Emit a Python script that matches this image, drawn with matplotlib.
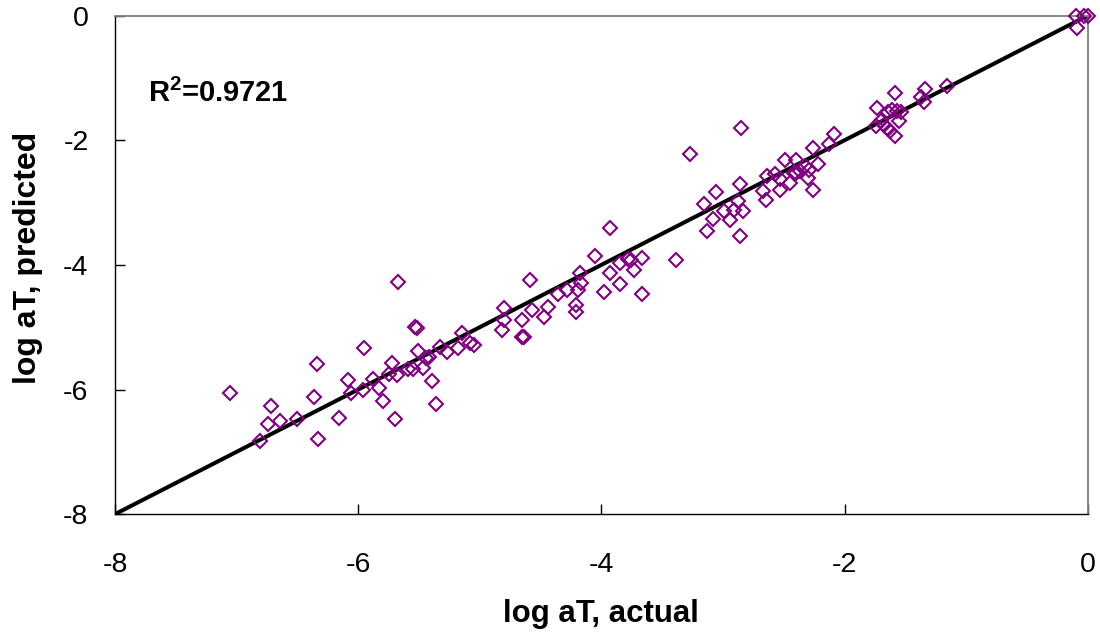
import matplotlib.pyplot as plt

plt.rcParams["font.family"] = ["Liberation Sans", "DejaVu Sans"]
plt.rcParams["axes.unicode_minus"] = False
plt.rcParams["mathtext.fontset"] = "custom"
plt.rcParams["mathtext.rm"] = "Liberation Sans:bold"
plt.rcParams["mathtext.bf"] = "Liberation Sans:bold"

# log aT values
actual = [
    -7.05, -6.81, -6.74, -6.72, -6.64, -6.50, -6.36, -6.34, -6.33, -6.16,
    -6.08, -6.06, -5.95, -5.96, -5.88, -5.83, -5.80, -5.72, -5.70, -5.67,
    -5.75, -5.68, -5.59, -5.55, -5.53, -5.52, -5.51, -5.47, -5.44, -5.42,
    -5.39, -5.36, -5.33, -5.27, -5.18, -5.15, -5.08, -5.05, -4.82, -4.80,
    -4.80, -4.65, -4.65, -4.64, -4.59, -4.57, -4.47, -4.44, -4.36, -4.28,
    -4.21, -4.21, -4.19, -4.18, -4.17, -4.05, -3.98, -3.93, -3.93, -3.85,
    -3.85, -3.78, -3.76, -3.73, -3.67, -3.67, -3.39, -3.27, -3.16, -3.13,
    -3.08, -3.06, -2.99, -2.94, -2.91, -2.88, -2.86, -2.84, -2.86, -2.85,
    -2.67, -2.65, -2.64, -2.57, -2.53, -2.53, -2.49, -2.45, -2.40, -2.42,
    -2.40, -2.37, -2.33, -2.30, -2.29, -2.26, -2.26, -2.22, -2.13, -2.09,
    -1.73, -1.74, -1.70, -1.68, -1.65, -1.64, -1.63, -1.61, -1.59, -1.59,
    -1.57, -1.54, -1.55, -1.37, -1.34, -1.35, -1.16, -0.10, -0.09, -0.03,
    0.0,
]
predicted = [
    -6.06, -6.83, -6.55, -6.26, -6.51, -6.48, -6.12, -5.59, -6.80, -6.45,
    -5.84, -6.06, -5.33, -6.00, -5.83, -5.97, -6.19, -5.57, -6.48, -4.27,
    -5.75, -5.76, -5.67, -5.67, -5.00, -5.01, -5.38, -5.66, -5.50, -5.48,
    -5.87, -6.23, -5.31, -5.40, -5.33, -5.09, -5.25, -5.29, -5.04, -4.70,
    -4.88, -4.88, -5.15, -5.16, -4.24, -4.72, -4.84, -4.68, -4.47, -4.40,
    -4.65, -4.76, -4.40, -4.13, -4.29, -3.85, -4.43, -3.41, -4.13, -3.97,
    -4.30, -3.91, -3.93, -4.08, -3.89, -4.46, -3.92, -2.22, -3.02, -3.45,
    -3.27, -2.83, -3.14, -3.28, -3.12, -2.98, -2.70, -3.14, -3.53, -1.81,
    -2.82, -2.96, -2.58, -2.54, -2.80, -2.63, -2.32, -2.68, -2.32, -2.52,
    -2.52, -2.49, -2.42, -2.61, -2.48, -2.12, -2.80, -2.38, -2.06, -1.90,
    -1.49, -1.78, -1.70, -1.75, -1.81, -1.54, -1.85, -1.51, -1.24, -1.94,
    -1.53, -1.54, -1.70, -1.30, -1.18, -1.38, -1.13, 0.0, -0.20, 0.0,
    0.0,
]

# y = x reference line
line_x = [-8, 0]
line_y = [-8, 0]
r2_label = r"R$^{2}$=0.9721"

fig = plt.figure(figsize=(11, 6.34), dpi=100)
ax = fig.add_axes([0.1045, 0.189, 0.8845, 0.7865])

ax.plot(line_x, line_y, color="black", linewidth=2.9, zorder=2)
ax.plot(actual, predicted, linestyle="none", marker="D", markersize=7.0,
        markerfacecolor="none", markeredgecolor="#800080",
        markeredgewidth=1.5, zorder=3, clip_on=False)

ax.set_xlim(-8, 0)
ax.set_ylim(-8, 0)
ax.set_xticks([-8, -6, -4, -2, 0])
ax.set_yticks([-8, -6, -4, -2, 0])
ax.tick_params(direction="in", length=7, width=1, labelsize=20.5, color="black")
ax.tick_params(axis="x", pad=27)
ax.tick_params(axis="y", pad=19)

for side in ["left", "bottom"]:
    ax.spines[side].set_color("black")
    ax.spines[side].set_linewidth(1)
for side in ["top", "right"]:
    ax.spines[side].set_color("#808080")
    ax.spines[side].set_linewidth(1.3)

ax.set_xlabel("log aT, actual", fontsize=22.5, fontweight="bold")
ax.set_ylabel("log aT, predicted", fontsize=23, fontweight="bold",
              va="center")
ax.xaxis.set_label_coords(0.5, -0.17)
ax.yaxis.set_label_coords(-0.0894, 0.513)

ax.text(-7.73, -1.38, r2_label, fontsize=21, fontweight="bold", va="baseline")

fig.savefig("out.png", dpi=100)
plt.close(fig)
